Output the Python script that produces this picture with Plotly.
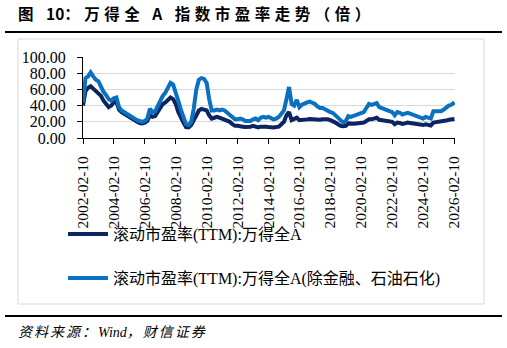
import plotly.graph_objects as go

# ---------------- data (bi-monthly) ----------------
years = list(range(2002, 2026))
months = [2, 4, 6, 8, 10, 12]
dates = [f"{y}-{m:02d}-10" for y in years for m in months] + ["2026-02-20"]

pe_all = [
    40, 58, 62, 64, 61, 58,          # 2002
    56, 52, 46, 42, 38, 40,          # 2003
    44, 45, 35, 32, 30, 27,          # 2004
    26, 24, 21, 20, 18.5, 18,        # 2005
    19, 21, 28, 26, 27, 32,          # 2006
    36, 42, 44, 47, 50, 48,          # 2007
    42, 32, 24, 19, 13.5, 13,        # 2008
    16, 22, 29, 34, 36, 35,          # 2009
    34, 28, 24, 25, 26, 25,          # 2010
    24, 23, 21, 20, 17, 15,          # 2011
    15, 15, 14, 13.5, 13.5, 14,      # 2012
    15, 14, 13, 14, 14.5, 14,        # 2013
    13.5, 13, 13, 13.5, 14, 17,      # 2014
    20, 28, 32, 22, 23, 25,          # 2015
    22, 22, 22.5, 23, 23.5, 23,      # 2016
    23.5, 23, 22.5, 23, 23.5, 23,    # 2017
    22, 21, 19, 17, 15, 14.5,        # 2018
    15, 18, 17.5, 17.5, 18, 18.5,    # 2019
    18.5, 19, 21, 23, 23, 23.5,      # 2020
    25, 22.5, 22, 22.5, 21, 21,      # 2021
    20, 17, 19, 18.5, 17.5, 18,      # 2022
    19, 18.5, 18, 18, 17.5, 17,      # 2023
    16, 17, 16.5, 15.5, 19, 19.5,    # 2024
    20, 19.5, 20.5, 21.5, 22.5, 23,  # 2025
    23.5,                            # 2026
]

pe_exfin = [
    44, 74, 76, 81, 76, 72,          # 2002
    70, 62, 57, 53, 48, 46,          # 2003
    49, 50, 38, 34, 32, 30,          # 2004
    28, 26, 23, 22, 21, 20,          # 2005
    21, 24, 36, 32, 33, 40,          # 2006
    45, 52, 56, 62, 68, 66,          # 2007
    57, 46, 35, 27, 17, 16,          # 2008
    20, 36, 60, 72, 74, 73,          # 2009
    68, 48, 34, 34, 35, 34,          # 2010
    35, 34, 31, 29, 26, 23,          # 2011
    23, 24, 23, 21, 21, 21,          # 2012
    23, 24, 22, 25, 26, 25,          # 2013
    26, 24, 23, 24, 26, 30,          # 2014
    34, 48, 63, 42, 40, 47,          # 2015
    38, 41, 43, 44, 45, 44,          # 2016
    42, 39, 37, 37, 35, 34,          # 2017
    32, 31, 28, 25, 21, 19,          # 2018
    21, 27, 26, 27, 28, 29,          # 2019
    31, 32, 37, 42, 41, 42,          # 2020
    43, 38, 37, 36, 35, 34,          # 2021
    32, 28, 32, 31, 29, 30,          # 2022
    31, 30, 29, 28, 27, 26,          # 2023
    24, 26, 25, 24, 33, 33,          # 2024
    34, 33, 35, 38, 40, 41,          # 2025
    44,                              # 2026
]

tick_labels = [f"{y}-02-10" for y in range(2002, 2027, 2)]
y_ticks = [0, 20, 40, 60, 80, 100]

name_all = "滚动市盈率(TTM):万得全A"
name_exfin = "滚动市盈率(TTM):万得全A(除金融、石油石化)"

# ---------------- layout geometry (pixels) ----------------
W, H = 507, 348
PL, PR, PT, PB = 83, 455, 57, 138   # plot area edges


def px2x(px):
    return (px - PL) / (PR - PL)


def px2y(py):
    return (PB - py) / (PB - PT)


DARK = "#0C2461"
BLUE = "#0A70C0"
SERIF = "Liberation Serif, Times New Roman, Noto Sans CJK SC, serif"

fig = go.Figure()
fig.add_trace(go.Scatter(x=dates, y=pe_all, mode="lines", name=name_all,
                         line=dict(color=DARK, width=4), legend="legend"))
fig.add_trace(go.Scatter(x=dates, y=pe_exfin, mode="lines", name=name_exfin,
                         line=dict(color=BLUE, width=4), legend="legend2"))

legend_common = dict(
    xref="container", yref="container", xanchor="left", yanchor="middle",
    bgcolor="rgba(0,0,0,0)", borderwidth=0, itemwidth=40,
    font=dict(family=SERIF, size=16, color="black"),
)

title_text = ('<b><span style="letter-spacing:4.5px">图 </span>10'
              '<span style="letter-spacing:4.5px">：万得全 A 指数市盈率走势（倍）</span></b>')
source_text = ('<i><span style="letter-spacing:2px">资料来源：</span>Wind'
               '<span style="letter-spacing:2px">，财信证券</span></i>')

fig.update_layout(
    width=W, height=H,
    margin=dict(l=PL, r=W - PR, t=PT, b=H - PB, pad=0, autoexpand=False),
    paper_bgcolor="white", plot_bgcolor="white",
    showlegend=True,
    legend=dict(x=63 / W, y=1 - 234 / H, **legend_common),
    legend2=dict(x=63 / W, y=1 - 278 / H, **legend_common),
    xaxis=dict(
        type="date", range=["2002-02-10", "2026-03-05"],
        tickvals=tick_labels, ticktext=tick_labels, tickangle=-90,
        showgrid=False, showline=True, linecolor="black", linewidth=1,
        ticks="outside", ticklen=5, tickcolor="black", tickwidth=1,
        ticklabelstandoff=6, automargin=False,
        tickfont=dict(family=SERIF, size=15.5, color="black"),
        zeroline=False,
    ),
    yaxis=dict(
        range=[0, 100], tickvals=y_ticks, tickformat=".2f",
        showgrid=True, gridcolor="#D9D9D9", gridwidth=1,
        showline=True, linecolor="black", linewidth=1,
        ticks="outside", ticklen=5, tickcolor="black", tickwidth=1,
        ticklabelstandoff=8, automargin=False,
        tickfont=dict(family=SERIF, size=16, color="black"),
        zeroline=False,
    ),
    shapes=[
        # outer light frame
        dict(type="rect", xref="paper", yref="paper",
             x0=px2x(18), x1=px2x(484), y0=px2y(304), y1=px2y(39),
             line=dict(color="#D9D9D9", width=1), fillcolor="rgba(0,0,0,0)",
             layer="below"),
        # rule under title
        dict(type="line", xref="paper", yref="paper",
             x0=px2x(5), x1=px2x(502), y0=px2y(32), y1=px2y(32),
             line=dict(color="black", width=2)),
        # rule above source
        dict(type="line", xref="paper", yref="paper",
             x0=px2x(5), x1=px2x(502), y0=px2y(316), y1=px2y(316),
             line=dict(color="black", width=2)),
    ],
    annotations=[
        dict(text=title_text,
             xref="paper", yref="paper", x=px2x(16), y=px2y(13),
             xanchor="left", yanchor="middle", showarrow=False,
             font=dict(family="Noto Sans CJK SC, sans-serif", size=15.5, color="black")),
        dict(text=source_text,
             xref="paper", yref="paper", x=px2x(16), y=px2y(332),
             xanchor="left", yanchor="middle", showarrow=False,
             font=dict(family=SERIF, size=14, color="black")),
    ],
)

fig.write_html("out.html")
